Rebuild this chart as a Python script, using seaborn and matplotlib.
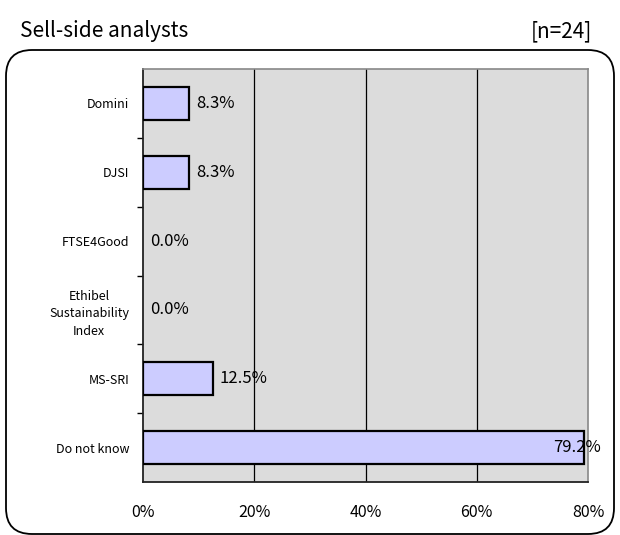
import numpy as np
import pandas as pd
import matplotlib
matplotlib.use("Agg")
import matplotlib.pyplot as plt
from matplotlib.patches import FancyBboxPatch
from matplotlib.ticker import FixedLocator
import seaborn as sns

# data
categories = ["Domini", "DJSI", "FTSE4Good",
              "Ethibel\nSustainability\nIndex", "MS-SRI", "Do not know"]
shares = [8.3, 8.3, 0.0, 0.0, 12.5, 79.2]
x_ticks = [0, 20, 40, 60, 80]
title = "Sell-side analysts"
sample_note = "[n=24]"

sns.set_theme(style="white")
plt.rcParams["font.family"] = ["Noto Sans CJK JP", "DejaVu Sans"]
plt.rcParams["text.color"] = "black"
plt.rcParams["xtick.color"] = "black"
plt.rcParams["ytick.color"] = "black"

df = pd.DataFrame({"category": categories, "share": shares})

W, H = 620, 535
fig = plt.figure(figsize=(W / 100, H / 100), dpi=100)
ax = fig.add_axes([143 / W, 1 - 482 / H, 445 / W, 413 / H])

# rounded frame around the chart area
frame = FancyBboxPatch((0.06, 0.01), 6.08, 4.84,
                       boxstyle="round,pad=0,rounding_size=0.26",
                       transform=fig.dpi_scale_trans, fill=False,
                       edgecolor="black", linewidth=1.3, zorder=0)
fig.patches.append(frame)

fig.text(20 / W, 1 - 31 / H, title, fontsize=15, va="center", ha="left")
fig.text(592 / W, 1 - 31 / H, sample_note, fontsize=15, va="center", ha="right")

ax.set_facecolor("#dcdcdc")
sns.barplot(data=df, x="share", y="category", orient="h", ax=ax,
            color="#ccccff", edgecolor="black", linewidth=1.6,
            width=0.48, saturation=1, zorder=3)
# zero-width bars draw no outline in the reference
for patch in ax.patches:
    if patch.get_width() == 0:
        patch.set_linewidth(0)

ax.set_xlim(0, 80)
ax.set_ylim(len(categories) - 0.5, -0.5)
ax.set_xlabel("")
ax.set_ylabel("")

# gridlines
for t in x_ticks[1:-1]:
    ax.axvline(t, color="black", linewidth=0.9, zorder=1)

ax.set_xticks(x_ticks)
ax.set_xticklabels([f"{t}%" for t in x_ticks], fontsize=11.5)
ax.tick_params(axis="x", length=0, pad=16)

ax.set_yticks(range(len(categories)))
ax.set_yticklabels(categories, fontsize=9, multialignment="center",
                   linespacing=1.45)
ax.tick_params(axis="y", which="major", length=0, pad=10)
ax.yaxis.set_minor_locator(FixedLocator(np.arange(0.5, len(categories) - 1, 1)))
ax.tick_params(axis="y", which="minor", length=4, width=1, color="black", left=True)

for side in ["top", "right"]:
    ax.spines[side].set_color("#888888")
    ax.spines[side].set_linewidth(1.2)
ax.spines["left"].set_color("#222222")
ax.spines["left"].set_linewidth(1.3)
ax.spines["bottom"].set_color("#222222")
ax.spines["bottom"].set_linewidth(1.3)

# value labels
for i, v in enumerate(shares):
    label = f"{v:.1f}%"
    if v > 70:
        ax.annotate(label, (80, i), xytext=(9, 0), textcoords="offset points",
                    ha="right", va="center", fontsize=12, zorder=5)
    else:
        ax.annotate(label, (v, i), xytext=(5, 0), textcoords="offset points",
                    ha="left", va="center", fontsize=12, zorder=5)

fig.savefig("out.png", dpi=100)
